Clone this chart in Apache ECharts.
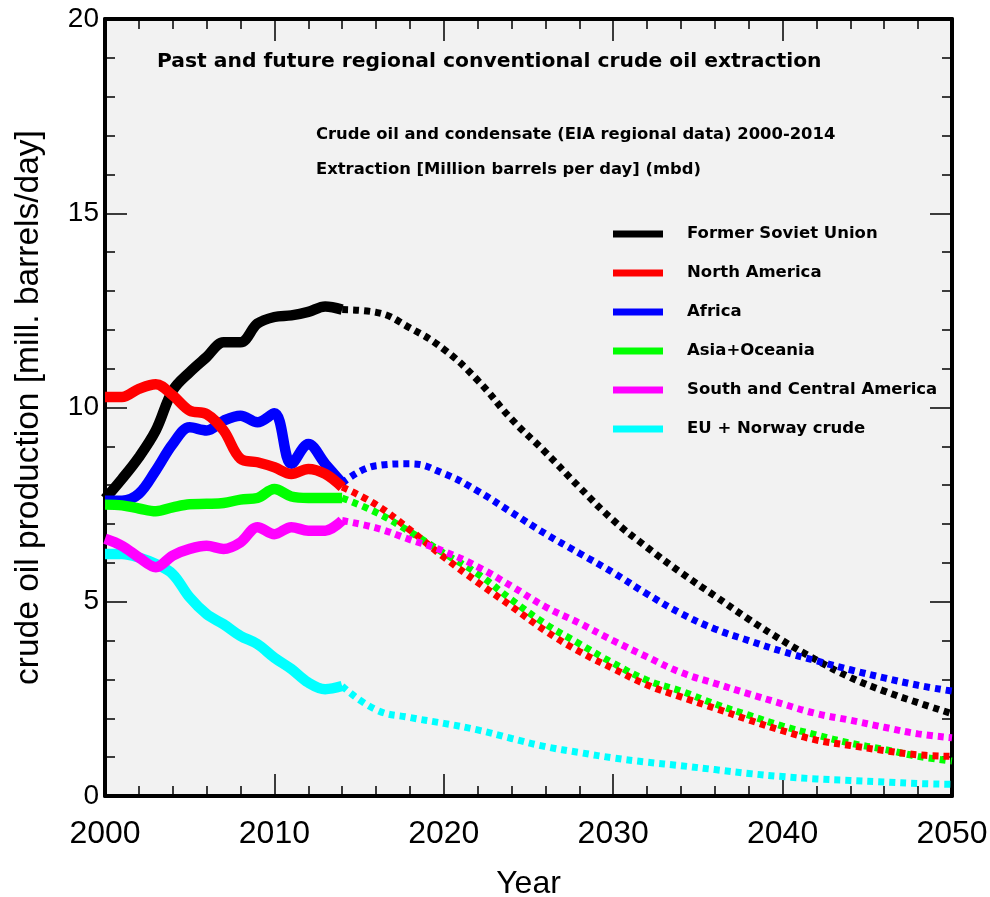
<!DOCTYPE html>
<html>
<head>
<meta charset="utf-8">
<script src="https://cdn.jsdelivr.net/npm/echarts@6/dist/echarts.min.js"></script>
<style>
html,body{margin:0;padding:0;background:#fff;}
#chart{width:990px;height:897px;}
</style>
</head>
<body>
<div id="chart"></div>
<script>
// ---- data ----
const pastYears = [2000,2001,2002,2003,2004,2005,2006,2007,2008,2009,2010,2011,2012,2013,2014];
const fsuPast   = [7.65,8.16,8.72,9.41,10.44,10.91,11.3,11.68,11.68,12.16,12.33,12.37,12.46,12.6,12.52];
const naPast    = [10.27,10.27,10.48,10.6,10.31,9.92,9.83,9.41,8.68,8.59,8.46,8.29,8.42,8.29,7.95];
const afPast    = [7.6,7.6,7.78,8.38,9.06,9.49,9.41,9.66,9.79,9.62,9.85,8.55,9.06,8.55,8.05];
const asPast    = [7.5,7.48,7.4,7.33,7.43,7.51,7.52,7.54,7.63,7.67,7.9,7.71,7.67,7.67,7.67];
const scPast    = [6.62,6.44,6.14,5.89,6.19,6.36,6.44,6.36,6.53,6.92,6.74,6.92,6.83,6.83,7.09];
const euPast    = [6.23,6.23,6.14,5.97,5.71,5.11,4.68,4.42,4.12,3.91,3.56,3.27,2.92,2.75,2.83];

const futYears  = [2014,2016,2018,2020,2022,2024,2026,2028,2030,2032,2034,2036,2038,2040,2042,2044,2046,2048,2050];
const fsuFut    = [12.52,12.45,12.05,11.5,10.7,9.7,8.85,7.95,7.1,6.4,5.75,5.15,4.55,4.0,3.5,3.05,2.7,2.4,2.12];
const naFut     = [7.95,7.5,6.85,6.15,5.5,4.88,4.25,3.72,3.28,2.86,2.55,2.26,1.96,1.68,1.44,1.3,1.17,1.06,1.02];
const afFut     = [8.05,8.5,8.55,8.3,7.85,7.3,6.75,6.25,5.75,5.2,4.7,4.3,4.0,3.72,3.48,3.25,3.04,2.85,2.7];
const asFut     = [7.67,7.3,6.8,6.25,5.72,5.05,4.43,3.92,3.42,2.98,2.7,2.37,2.08,1.8,1.57,1.36,1.2,1.02,0.9];
const scFut     = [7.09,6.9,6.6,6.3,5.9,5.4,4.87,4.45,4.0,3.58,3.18,2.9,2.63,2.37,2.12,1.95,1.77,1.6,1.5];
const euFut     = [2.83,2.22,2.02,1.87,1.7,1.48,1.27,1.12,0.98,0.87,0.78,0.68,0.58,0.5,0.44,0.4,0.36,0.32,0.3];

const names   = ['Former Soviet Union','North America','Africa','Asia+Oceania','South and Central America','EU + Norway crude'];
const colors  = ['#000000','#ff0000','#0000ff','#00ff00','#ff00ff','#00ffff'];
const pastSets = [fsuPast, naPast, afPast, asPast, scPast, euPast];
const futSets  = [fsuFut, naFut, afFut, asFut, scFut, euFut];
const drawOrder = [5,0,2,3,1,4];

const FONT = '"Liberation Sans", Arial, Helvetica, sans-serif';
const BFONT = '"DejaVu Sans", "Liberation Sans", Arial, sans-serif';

function pairs(xs, ys){ return xs.map((x,i)=>[x, ys[i]]); }

const series = [];
drawOrder.forEach(i=>{
  series.push({
    name: names[i], type:'line', data: pairs(pastYears, pastSets[i]),
    smooth: 0.35, symbol:'none', color: colors[i],
    lineStyle:{width:10.5, color: colors[i], cap:'butt', join:'round'},
    itemStyle:{color: colors[i]}, z: 3
  });
});
drawOrder.forEach(i=>{
  series.push({
    name: names[i], type:'line', data: pairs(futYears, futSets[i]),
    smooth: 0.45, symbol:'none', color: colors[i],
    lineStyle:{width:7, color: colors[i], type:[6,5], cap:'butt'},
    itemStyle:{color: colors[i]}, z: 2
  });
});

const tickStyle = {color:'#000', width:1.5};
function xAx(pos, labels){
  return {
    type:'value', position: pos, min:2000, max:2050, interval:10,
    name: labels ? 'Year' : '', nameLocation:'middle', nameGap:72,
    nameTextStyle:{fontFamily:FONT, fontSize:32, color:'#000'},
    axisLine:{show:true, onZero:false, lineStyle:{color:'#000', width:4}},
    axisTick:{show:true, inside:true, length:22, lineStyle:tickStyle},
    minorTick:{show:true, splitNumber:5, length:10, lineStyle:tickStyle},
    axisLabel:{show:labels, fontFamily:FONT, fontSize:32, color:'#000', margin:22,
               formatter: v => String(v)},
    splitLine:{show:false}, minorSplitLine:{show:false}
  };
}
function yAx(pos, labels){
  return {
    type:'value', position: pos, min:0, max:20, interval:5,
    name: labels ? 'crude oil production [mill. barrels/day]' : '', nameLocation:'middle', nameGap:59,
    nameTextStyle:{fontFamily:FONT, fontSize:33.5, color:'#000'},
    axisLine:{show:true, onZero:false, lineStyle:{color:'#000', width:4}},
    axisTick:{show:true, inside:true, length:22, lineStyle:tickStyle},
    minorTick:{show:true, splitNumber:5, length:10, lineStyle:tickStyle},
    axisLabel:{show:labels, fontFamily:FONT, fontSize:28, color:'#000', margin:6},
    splitLine:{show:false}, minorSplitLine:{show:false}
  };
}

const chart = echarts.init(document.getElementById('chart'), null, {renderer:'canvas'});
chart.setOption({
  animation:false,
  backgroundColor:'#ffffff',
  grid:{left:105, right:38, top:19, bottom:101, show:true, backgroundColor:'#f2f2f2', borderWidth:0,
        containLabel:false, outerBoundsMode:'none'},
  title:[
    {text:'Past and future regional conventional crude oil extraction', left:157, top:52, padding:0,
     textStyle:{fontFamily:BFONT, fontSize:20.3, fontWeight:'bold', color:'#000'}},
    {text:'Crude oil and condensate (EIA regional data) 2000-2014', left:316, top:127, padding:0,
     textStyle:{fontFamily:BFONT, fontSize:16.4, fontWeight:'bold', color:'#000'}},
    {text:'Extraction [Million barrels per day] (mbd)', left:316, top:162, padding:0,
     textStyle:{fontFamily:BFONT, fontSize:16.4, fontWeight:'bold', color:'#000'}}
  ],
  legend:{
    data: names, orient:'vertical', left:613, top:224, padding:0, itemWidth:50, itemHeight:7, itemGap:19,
    icon:'rect', selectedMode:false,
    textStyle:{fontFamily:BFONT, fontSize:16.5, fontWeight:'bold', color:'#000', lineHeight:20, padding:[0,0,0,19]}
  },
  xAxis:[xAx('bottom', true), xAx('top', false)],
  yAxis:[yAx('left', true), yAx('right', false)],
  series: series
});
</script>
</body>
</html>
